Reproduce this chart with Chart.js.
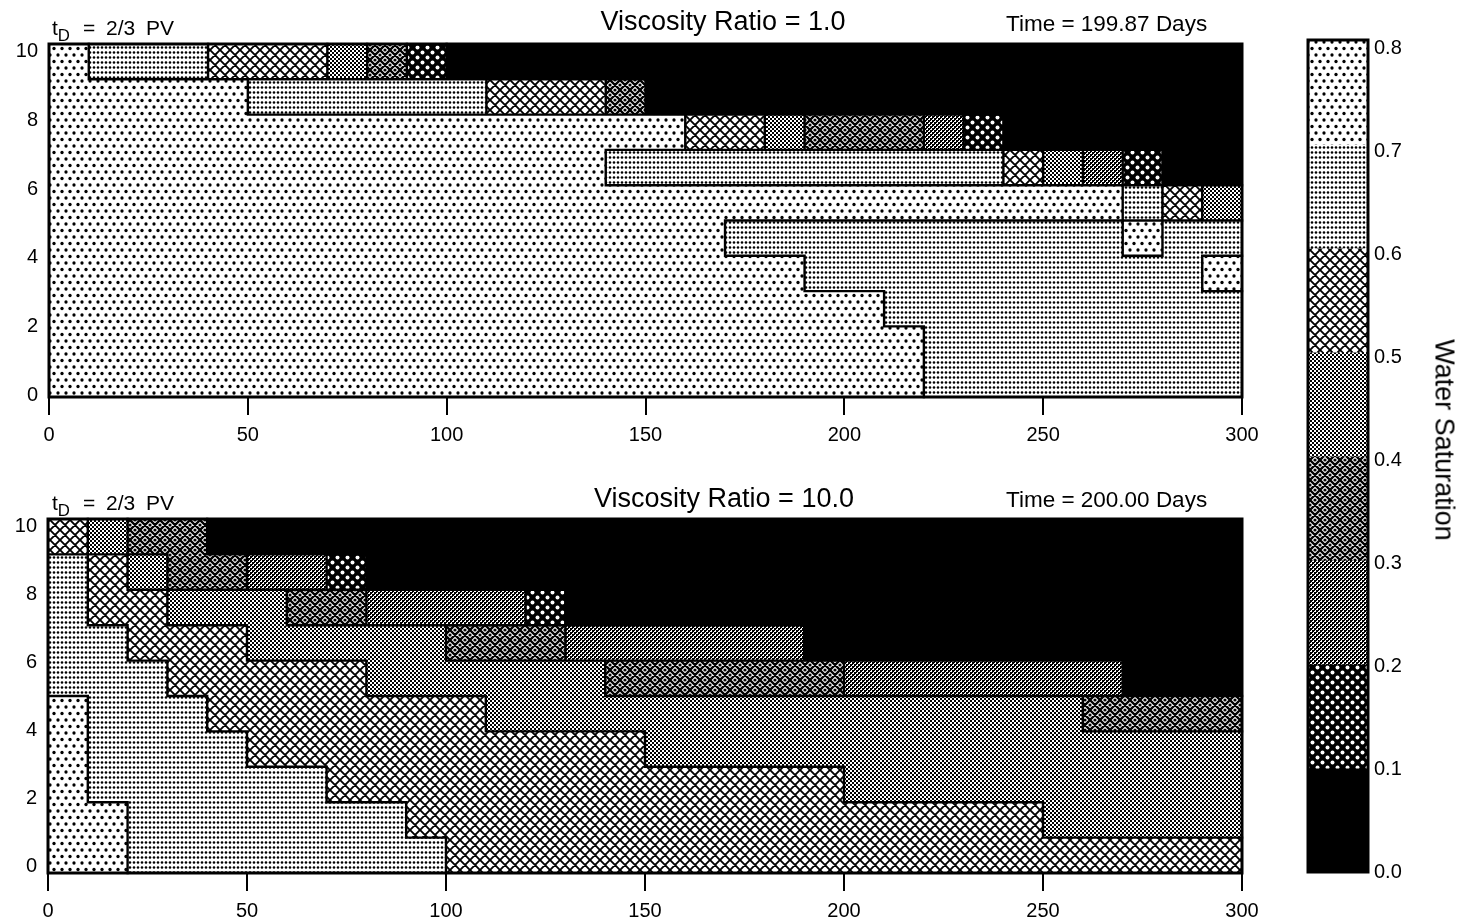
<!DOCTYPE html>
<html>
<head>
<meta charset="utf-8">
<script src="https://cdn.jsdelivr.net/npm/chart.js@4.4.1/dist/chart.umd.min.js"></script>
<style>
  html, body { margin: 0; padding: 0; background: #fff; }
  body { width: 1462px; height: 921px; position: relative; overflow: hidden;
         font-family: "Liberation Sans", Arial, Helvetica, sans-serif; color: #000; }
  canvas { position: absolute; }
  .txt { position: absolute; line-height: 1; white-space: nowrap; }
  .txt sub { font-size: 0.8em; vertical-align: -0.38em; line-height: 0; }
</style>
</head>
<body>
<canvas id="mu1" width="1290" height="460" style="left:0;top:0"></canvas>
<canvas id="mu10" width="1290" height="451" style="left:0;top:470px"></canvas>
<canvas id="scale" width="172" height="921" style="left:1290px;top:0"></canvas>

<div class="txt" style="left:52px;top:17px;font-size:21px;word-spacing:5px">t<sub>D</sub><span style="margin-left:13px">= 2/3 PV</span></div>
<div class="txt" style="left:723px;top:8px;font-size:27px;transform:translateX(-50%)">Viscosity Ratio = 1.0</div>
<div class="txt" style="left:1006px;top:13px;font-size:22.5px">Time = 199.87 Days</div>

<div class="txt" style="left:52px;top:492px;font-size:21px;word-spacing:5px">t<sub>D</sub><span style="margin-left:13px">= 2/3 PV</span></div>
<div class="txt" style="left:724px;top:485px;font-size:27px;transform:translateX(-50%)">Viscosity Ratio = 10.0</div>
<div class="txt" style="left:1006px;top:489px;font-size:22.5px">Time = 200.00 Days</div>

<div class="txt" style="left:1444px;top:440px;font-size:27px;transform:translate(-50%,-50%) rotate(90deg)">Water Saturation</div>

<script>
// Grid layers, listed from the top layer down
const layers = ['9', '8', '7', '6', '5', '4', '3', '2', '1', '0'];
// Column edges along the x direction
const columnEdges = [0, 10, 20, 30, 40, 50, 60, 70, 80, 90, 100, 110, 120, 130, 140, 150,
                     160, 170, 180, 190, 200, 210, 220, 230, 240, 250, 260, 270, 280, 290, 300];
const xTickValues = [0, 50, 100, 150, 200, 250, 300];
const yTickValues = [0, 2, 4, 6, 8, 10];

// Water-saturation class of each cell (digit k means k/10 <= Sw < (k+1)/10),
// one string per layer, top layer first, columns grouped in tens
const satClassMu1 = [
  '7666555431 0000000000 0000000000',
  '7777766666 6555300000 0000000000',
  '7777777777 7777775543 3321000000',
  '7777777777 7777666666 6666542100',
  '7777777777 7777777777 7777777654',
  '7777777777 7777777666 6666666766',
  '7777777777 7777777776 6666666667',
  '7777777777 7777777777 7666666666',
  '7777777777 7777777777 7766666666',
  '7777777777 7777777777 7766666666'
];
const satClassMu10 = [
  '5433000000 0000000000 0000000000',
  '6543322100 0000000000 0000000000',
  '6554443322 2210000000 0000000000',
  '6655544444 3332222220 0000000000',
  '6665555544 4444333333 2222222000',
  '7666555555 5444444444 4444443333',
  '7666655555 5555544444 4444444444',
  '7666666555 5555555555 4444444444',
  '7766666665 5555555555 5555544444',
  '7766666666 5555555555 5555555555'
];

// Colour-bar class edges and labels
const satEdges = [0.0, 0.1, 0.2, 0.3, 0.4, 0.5, 0.6, 0.7, 0.8];
const satTickValues = [0.0, 0.1, 0.2, 0.3, 0.4, 0.5, 0.6, 0.7, 0.8];

// ---- fill patterns for the eight saturation classes ----
function tile(w, h, bg, paint) {
  const c = document.createElement('canvas');
  c.width = w; c.height = h;
  const g = c.getContext('2d');
  g.fillStyle = bg; g.fillRect(0, 0, w, h);
  g.fillStyle = '#000'; g.strokeStyle = '#000';
  paint(g, w, h);
  return g.createPattern(c, 'repeat');
}
function wrappedDots(g, w, h, pts, r, color) {
  g.fillStyle = color;
  for (const [x, y] of pts) {
    for (const dx of [-w, 0, w]) for (const dy of [-h, 0, h]) {
      g.beginPath(); g.arc(x + dx, y + dy, r, 0, Math.PI * 2); g.fill();
    }
  }
}
function diagonals(g, n, lw) {
  g.lineWidth = lw; g.beginPath();
  for (const o of [-n, 0, n]) {
    g.moveTo(o, 0); g.lineTo(o + n, n);
    g.moveTo(o + n, 0); g.lineTo(o, n);
  }
  g.stroke();
}
const fills = [
  '#000',
  tile(10, 10, '#000', g => wrappedDots(g, 10, 10, [[2.5, 2.5], [7.5, 7.5]], 2.0, '#fff')),
  tile(4, 4, '#fff', g => { g.fillRect(0, 0, 2, 2); g.fillRect(2, 2, 2, 2); g.fillRect(2, 0, 1, 1); g.fillRect(0, 2, 1, 1); }),
  tile(10, 10, '#fff', g => { diagonals(g, 10, 2.3); wrappedDots(g, 10, 10, [[5, 0], [0, 5]], 1.6, '#000'); }),
  tile(4, 4, '#fff', g => { g.fillRect(0, 0, 2, 2); g.fillRect(2, 2, 2, 2); }),
  tile(10, 10, '#fff', g => diagonals(g, 10, 1.9)),
  tile(4, 5, '#fff', g => wrappedDots(g, 4, 5, [[2, 2.5]], 1.3, '#000')),
  tile(8, 13, '#fff', g => wrappedDots(g, 8, 13, [[2, 3], [6, 9.5]], 1.65, '#000'))
];

// Thick frame around the plotting area
const framePlugin = {
  id: 'frame',
  afterDatasetsDraw(chart, args, opts) {
    const { ctx, chartArea: a } = chart;
    ctx.save();
    ctx.strokeStyle = '#000';
    ctx.lineWidth = opts.width || 3;
    ctx.strokeRect(a.left, a.top, a.right - a.left, a.bottom - a.top);
    ctx.restore();
  }
};

// Outlines between neighbouring cells of different classes, traced along the bar elements
const outlinePlugin = {
  id: 'outline',
  afterDatasetsDraw(chart, args, opts) {
    const grid = opts.grid;
    if (!grid) return;
    const els = chart.getDatasetMeta(0).data;
    const nC = grid[0].length;
    const { ctx } = chart;
    ctx.save();
    ctx.strokeStyle = '#000';
    ctx.lineWidth = opts.width || 2.4;
    ctx.lineCap = 'square';
    ctx.beginPath();
    for (let r = 0; r < grid.length; r++) {
      for (let c = 0; c < nC; c++) {
        const el = els[r * nC + c];
        const { x, y, base, height } = el.getProps(['x', 'y', 'base', 'height'], true);
        const top = y - height / 2, bottom = y + height / 2;
        if (c + 1 < nC && grid[r][c + 1] !== grid[r][c]) {
          ctx.moveTo(x, top); ctx.lineTo(x, bottom);
        }
        if (r + 1 < grid.length && grid[r + 1][c] !== grid[r][c]) {
          ctx.moveTo(base, bottom); ctx.lineTo(x, bottom);
        }
      }
    }
    ctx.stroke();
    ctx.restore();
  }
};

const tickFont = { family: '"Liberation Sans", Arial, sans-serif', size: 20 };

function saturationMap(canvasId, rows, yMin, yMax, yAxisWidth, xAxisHeight, padding) {
  const grid = rows.map(s => s.replace(/ /g, '').split('').map(Number));
  const cells = [];
  grid.forEach((row, r) => row.forEach((bin, c) => {
    cells.push({ y: layers[r], x: [columnEdges[c], columnEdges[c + 1]], bin });
  }));

  return new Chart(document.getElementById(canvasId), {
    type: 'bar',
    data: {
      labels: layers,
      datasets: [{
        data: cells,
        backgroundColor: ctx => ctx.raw ? fills[ctx.raw.bin] : '#000',
        borderWidth: 0,
        inflateAmount: 0.5,
        categoryPercentage: 1,
        barPercentage: 1
      }]
    },
    options: {
      indexAxis: 'y',
      responsive: false,
      animation: false,
      events: [],
      devicePixelRatio: 1,
      layout: { padding },
      plugins: {
        legend: { display: false }, tooltip: { enabled: false },
        frame: { width: 3 }, outline: { grid, width: 2.4 }
      },
      scales: {
        x: {
          type: 'linear', min: 0, max: 300,
          afterBuildTicks: s => { s.ticks = xTickValues.map(v => ({ value: v })); },
          ticks: { color: '#000', font: tickFont, padding: 8, maxRotation: 0, autoSkip: false },
          grid: { drawOnChartArea: false, drawTicks: true, tickLength: 18, color: '#000', lineWidth: 2 },
          border: { display: false },
          afterFit: s => { s.height = xAxisHeight; }
        },
        y: { type: 'category', labels: layers, offset: true, display: false },
        yTicks: {
          type: 'linear', position: 'left', min: yMin, max: yMax, offset: false,
          afterBuildTicks: s => { s.ticks = yTickValues.map(v => ({ value: v })); },
          ticks: { color: '#000', font: tickFont, padding: 11, autoSkip: false },
          grid: { display: false, drawTicks: false, offset: false },
          border: { display: false },
          afterFit: s => { s.width = yAxisWidth; }
        }
      }
    },
    plugins: [outlinePlugin, framePlugin]
  });
}

saturationMap('mu1', satClassMu1, -0.05, 10.22, 49, 63, { top: 44, right: 48, left: 0, bottom: 0 });
saturationMap('mu10', satClassMu10, -0.19, 10.21, 48, 48, { top: 49, right: 48, left: 0, bottom: 0 });

// Colour bar: one column of the eight saturation classes
const bands = satEdges.slice(0, -1).map((lo, i) => ({ x: 'Sw', y: [lo, satEdges[i + 1]], bin: i }));
new Chart(document.getElementById('scale'), {
  type: 'bar',
  data: {
    labels: ['Sw'],
    datasets: [{
      data: bands,
      backgroundColor: ctx => ctx.raw ? fills[ctx.raw.bin] : '#000',
      borderWidth: 0,
      inflateAmount: 0.5,
      categoryPercentage: 1,
      barPercentage: 1
    }]
  },
  options: {
    responsive: false,
    animation: false,
    events: [],
    devicePixelRatio: 1,
    layout: { padding: { left: 18, top: 40, bottom: 49, right: 0 } },
    plugins: { legend: { display: false }, tooltip: { enabled: false }, frame: { width: 3 } },
    scales: {
      x: { type: 'category', offset: true, display: false },
      y: { type: 'linear', min: 0, max: 0.8, display: false },
      yTicks: {
        type: 'linear', position: 'right', min: 0, max: 0.808,
        afterBuildTicks: s => { s.ticks = satTickValues.map(v => ({ value: v })); },
        ticks: { color: '#000', font: { family: '"Liberation Sans", Arial, sans-serif', size: 20 },
                 padding: 6, autoSkip: false, callback: v => Number(v).toFixed(1) },
        grid: { display: false, drawTicks: false },
        border: { display: false },
        afterFit: s => { s.width = 94; }
      }
    }
  },
  plugins: [framePlugin]
});
</script>
</body>
</html>
